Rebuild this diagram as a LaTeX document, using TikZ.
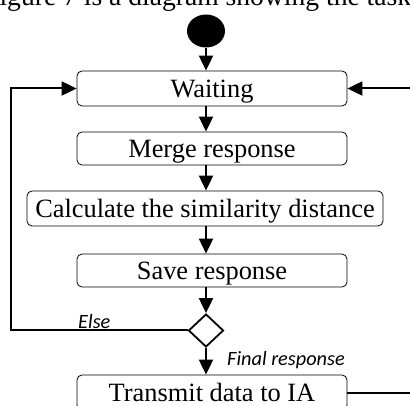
\documentclass[tikz,border=0pt]{standalone}
\usepackage{fontspec}
\setmainfont{Liberation Serif}
\newfontfamily\labfont{Carlito}
\usetikzlibrary{arrows.meta,shapes.geometric}
\begin{document}
\begin{tikzpicture}[x=1pt,y=-1pt,
 box/.style={draw,line width=0.8pt,rounded corners=5pt,text height=19pt,text depth=1pt,inner sep=0pt,font=\fontsize{26.4}{30}\selectfont},
 conn/.style={line width=2pt},
 arr/.style={conn,-{Triangle[length=15pt,width=14pt]}},
 lab/.style={font=\labfont\itshape\fontsize{20.3}{24}\selectfont,inner sep=0pt,anchor=base west}]
\path[use as bounding box,clip] (0,0) rectangle (410,406);
\node[anchor=base west,inner sep=0pt,font=\fontsize{27.6}{31}\selectfont] (title) at (-16,6) {Figure 7 is a diagram showing the tasks};
\node[ellipse,fill,minimum width=38pt,minimum height=33pt,inner sep=0pt] (start) at (206,31) {};
\node[box,minimum width=270pt,minimum height=35pt] (wait) at (212,88.5) {Waiting};
\node[box,minimum width=270pt,minimum height=33pt] (merge) at (212,148.5) {Merge response};
\node[box,minimum width=356pt,minimum height=35pt] (calc) at (205,208.5) {Calculate the similarity distance};
\node[box,minimum width=270pt,minimum height=33pt] (save) at (212,270.5) {Save response};
\node[diamond,draw,line width=1.8pt,minimum width=35pt,minimum height=33pt,inner sep=0pt] (dec) at (206,330.5) {};
\node[box,minimum width=270pt,minimum height=35pt] (tr) at (212,392.5) {Transmit data to IA};
\node[lab] (else) at (78,328.5) {Else};
\node[lab] (fin) at (227,366) {Final response};
\coordinate (lc) at (11,330.5);
\coordinate (rw) at (416,0);
\draw[arr] (start.south) -- (wait.north -| start.south);
\draw[arr] (wait.south -| start) -- (merge.north -| start);
\draw[arr] (merge.south -| start) -- (calc.north -| start);
\draw[arr] (calc.south -| start) -- (save.north -| start);
\draw[arr] (save.south -| dec) -- (dec.north);
\draw[arr] (dec.south) -- (tr.north -| dec);
\draw[arr] (dec.west) -- (lc) |- (wait.west);
\draw[arr] (wait.east -| rw) -- (wait.east);
\draw[conn] (tr.east) -- (tr.east -| rw);
\end{tikzpicture}
\end{document}
